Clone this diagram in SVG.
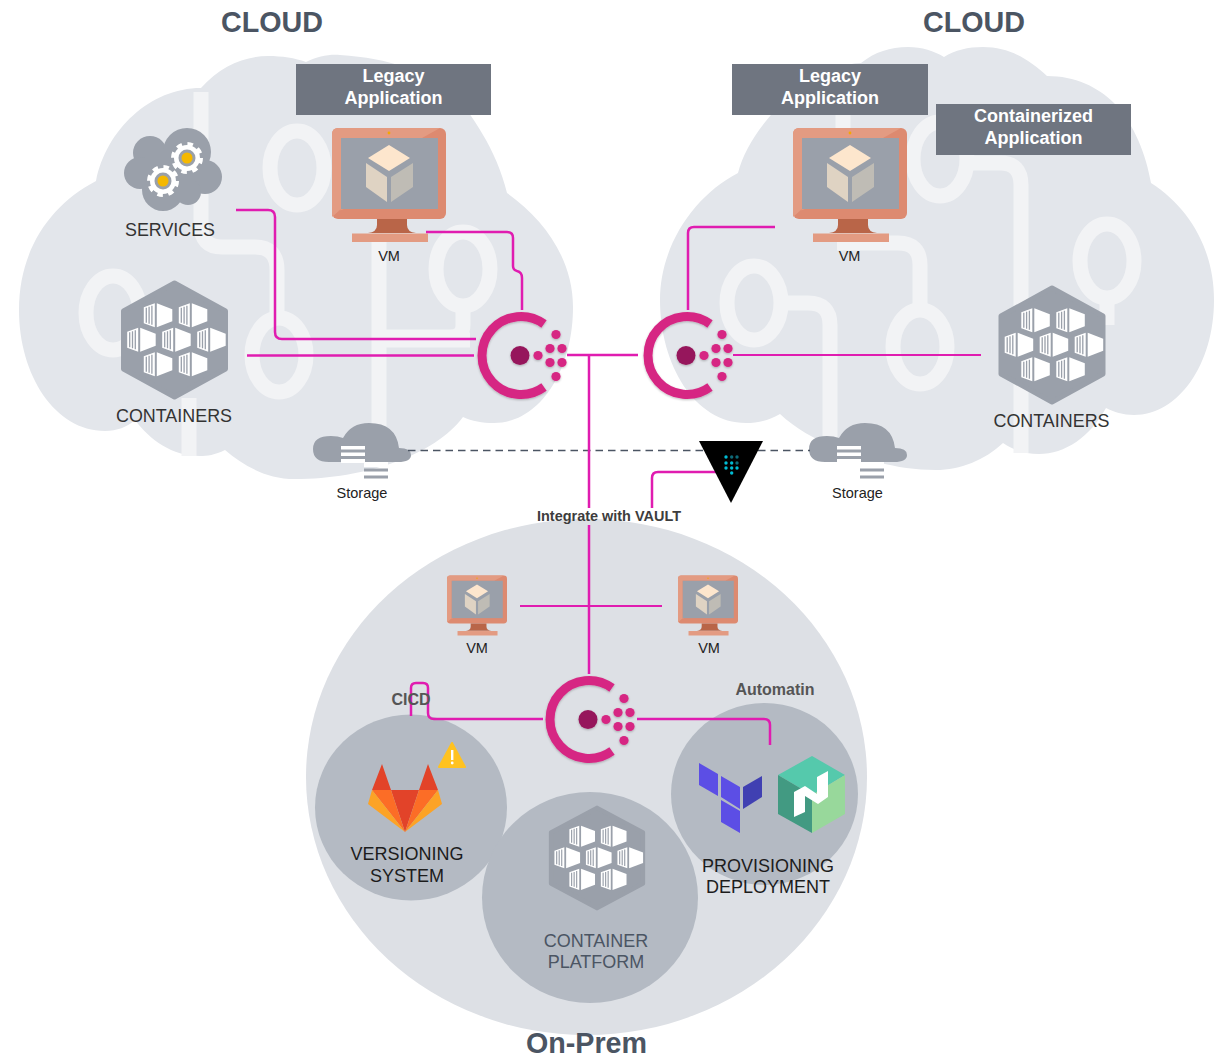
<svg xmlns="http://www.w3.org/2000/svg" xmlns:xlink="http://www.w3.org/1999/xlink" width="1217" height="1057" viewBox="0 0 1217 1057">
<style>
text{font-family:"Liberation Sans",Arial,sans-serif;text-anchor:middle}
.h{font-size:28.7px;font-weight:700;fill:#4b5563}
.lb{font-size:18px;font-weight:700;fill:#fff}
.n{font-size:18px;fill:#333}
.k{font-size:18px;fill:#1c1c1c}
.vm{font-size:14.5px;fill:#222}
.b{font-size:16px;font-weight:700;fill:#555}
.cloud{fill:#e3e6eb}
.tr{fill:none;stroke:#f2f3f5;stroke-width:15}
.lab{fill:#6f7580}
.ic{fill:#9aa0aa}
.disc{fill:#b4bac3}
.c{fill:none;stroke:#e01cb0;stroke-width:2.5;stroke-linejoin:round}
.t{fill:none;stroke:#e01cb0;stroke-width:1.8}
</style>
<defs>
<filter id="sh" x="-10%" y="-10%" width="120%" height="125%"><feDropShadow dx="0" dy="1" stdDeviation="1" flood-color="#000" flood-opacity=".25"/></filter>
<symbol id="monitor" overflow="visible" viewBox="0 0 114 114" width="114" height="114">
<rect width="114" height="91" rx="6" fill="#dd8a70"/>
<path d="M6 0H108L90 10H9V81L0 88V6Q0 0 6 0Z" fill="#e39b82"/>
<path d="M0 85L12 81H9L0 89Z" fill="#e39b82"/>
<rect x="9" y="10" width="97" height="71" fill="#9aa0aa"/>
<circle cx="57" cy="5" r="1.4" fill="#f5a800"/>
<path d="M57 17L78 30 57 43 36 30Z" fill="#fde6cd"/>
<path d="M34 35L55 49V74L34 59Z" fill="#dfd3c3"/>
<path d="M59 49L81 35V59L59 74Z" fill="#bfbcb5"/>
<path d="M45 91H75V97Q75 104 84 105H36Q45 104 45 97Z" fill="#b96548"/>
<rect x="20" y="105.500" width="76" height="8.500" fill="#e39b82"/>
</symbol>
<g id="tile">
<path d="M0 4L11 0V24L0 20Z" fill="#fff"/>
<path d="M2.500 4.500V19.500M5.300 3.500V20.500M8.100 2.500V21.500" stroke="#9aa0aa" stroke-width="1.300" fill="none"/>
<path d="M13 0L28.500 6V18L13 24Z" fill="#fff"/>
</g>
<g id="hex">
<path d="M0 -57L51 -29V29L0 57L-51 29V-29Z" fill="#9aa0aa" stroke="#9aa0aa" stroke-width="5" stroke-linejoin="round"/>
<use href="#tile" x="-30.700" y="-36.700"/><use href="#tile" x="4.300" y="-36.700"/>
<use href="#tile" x="-47.300" y="-12.300"/><use href="#tile" x="-12.300" y="-12.300"/><use href="#tile" x="22.700" y="-12.300"/>
<use href="#tile" x="-30.700" y="12.300"/><use href="#tile" x="4.300" y="12.300"/>
</g>
<g id="consul" filter="url(#sh)">
<path d="M24 -31.500A39 39 0 1 0 24 31.500" fill="none" stroke="#d62783" stroke-width="9"/>
<circle r="9.500" fill="#96185b"/>
<g fill="#d62783"><circle cx="18" r="4.600"/><circle cx="30" cy="-7" r="4.600"/><circle cx="30" cy="7" r="4.600"/><circle cx="42" cy="-7" r="4.600"/><circle cx="42" cy="7" r="4.600"/><circle cx="36" cy="-21" r="4.600"/><circle cx="36" cy="21" r="4.600"/></g>
</g>
<g id="storage">
<path d="M329 462Q313 462 313 449Q313 436 331 436Q338 436 343 438Q351 423 369 423Q396 423 399 448Q411 448 411 455Q411 462 398 462Z" fill="#9aa0aa"/>
<rect x="341" y="446" width="24" height="3.500" fill="#fff"/>
<rect x="341" y="452.500" width="24" height="3.500" fill="#fff"/>
<rect x="341" y="459" width="24" height="4" fill="#fff"/>
<rect x="364" y="462" width="24" height="5" fill="#fff"/>
<rect x="364" y="468.500" width="24" height="3" class="ic"/>
<rect x="364" y="475.500" width="24" height="3" class="ic"/>
</g>
<g id="gear">
<circle r="13" fill="#fff"/>
<circle r="14" fill="none" stroke="#fff" stroke-width="4" stroke-dasharray="5.500 5.500"/>
<circle r="8.500" fill="#9aa0aa"/>
<circle r="5.500" fill="#f5b800"/>
</g>
</defs>
<rect width="1217" height="1057" fill="#fff"/>

<g id="cloud-left">
<path class="cloud" d="M96 181C106 130 150 88 201 88C220 66 245 56 268 56C282 56 295 58 306 62C318 56 330 54 340 55C390 58 425 72 451 90C470 112 497 150 507 193C545 220 573 260 573 307C573 370 540 423 494 423C482 423 472 421 463 417C435 455 365 479 295 479C265 479 243 465 225 450C215 455 207 456 200 456C172 456 150 440 135 420C127 427 117 431 105 431C55 431 19 375 19 310C19 250 50 205 96 181Z"/>
<g class="tr">
<path d="M201 92V225Q201 247 222 247H255Q277 247 277 270V312"/>
<ellipse cx="297" cy="168" rx="27" ry="37"/>
<ellipse cx="113" cy="313" rx="27" ry="37"/>
<ellipse cx="279" cy="355" rx="27" ry="37"/>
<ellipse cx="463" cy="269" rx="27" ry="37"/>
<path d="M463 306V325Q463 337 450 337H379M379 240V430M379 340H470"/>
<path d="M189 398V456"/>
</g>
</g>

<g id="cloud-right">
<path class="cloud" d="M660 300C660 245 695 195 738 173C750 125 810 65 861 63C875 52 890 47 908 47C922 47 934 51 944 57C955 50 968 47 983 47C1010 47 1030 60 1047 76C1075 76 1098 87 1114 103C1135 125 1146 155 1151 183C1190 208 1214 250 1214 300C1214 365 1178 415 1134 415C1123 415 1114 412 1106 408C1090 437 1065 454 1039 454C1025 454 1013 450 1003 443C985 460 960 470 936 470C895 470 860 458 837 447C815 440 795 428 780 414C770 420 758 423 746 423C695 423 660 365 660 300Z"/>
<g class="tr">
<ellipse cx="754" cy="303" rx="27" ry="37"/>
<path d="M788 303H808Q830 303 830 325V447"/>
<ellipse cx="920" cy="347" rx="27" ry="37"/>
<path d="M920 310V265Q920 243 898 243H837M843 115V135"/>
<ellipse cx="940" cy="159" rx="27" ry="37"/>
<path d="M972 163H1000Q1021 163 1021 185V453"/>
<ellipse cx="1107" cy="261" rx="27" ry="37"/>
<path d="M1107 298V325"/>
</g>
</g>

<g id="onprem">
<ellipse cx="586.500" cy="777" rx="280.500" ry="258" fill="#dde0e5"/>
<ellipse id="disc-versioning" class="disc" cx="411" cy="807.500" rx="96" ry="93"/>
<ellipse id="disc-provisioning" class="disc" cx="764.500" cy="794" rx="93.500" ry="91"/>
<ellipse id="disc-platform" class="disc" cx="590" cy="897.500" rx="108" ry="105.500"/>
<text x="586.500" y="1053" class="h">On-Prem</text>
</g>

<g id="title-left"><text x="272" y="32" class="h">CLOUD</text></g>
<g id="title-right"><text x="974" y="32" class="h">CLOUD</text></g>

<g id="label-legacy-left"><rect class="lab" x="296" y="64" width="195" height="51"/><text class="lb" x="393.500" y="82">Legacy</text><text class="lb" x="393.500" y="104">Application</text></g>
<g id="label-legacy-right"><rect class="lab" x="732" y="64" width="196" height="51"/><text class="lb" x="830" y="82">Legacy</text><text class="lb" x="830" y="104">Application</text></g>
<g id="label-containerized"><rect class="lab" x="936" y="104" width="195" height="51"/><text class="lb" x="1033.500" y="122">Containerized</text><text class="lb" x="1033.500" y="144">Application</text></g>

<g id="services">
<g class="ic"><circle cx="150" cy="153" r="17"/><circle cx="187" cy="152" r="24"/><circle cx="140" cy="173" r="16"/><circle cx="205" cy="177" r="17"/><circle cx="163" cy="190" r="21"/><circle cx="188" cy="192" r="13"/><rect x="145" y="150" width="50" height="35"/></g>
<use href="#gear" x="187" y="158"/><use href="#gear" x="163" y="181"/>
<text class="n" x="170" y="235.500" textLength="90" lengthAdjust="spacingAndGlyphs">SERVICES</text>
</g>

<g id="containers-left"><use href="#hex" x="174.500" y="340"/><text class="n" x="174" y="422" textLength="116" lengthAdjust="spacingAndGlyphs">CONTAINERS</text></g>
<g id="containers-right"><use href="#hex" x="1052" y="345"/><text class="n" x="1051.500" y="427" textLength="116" lengthAdjust="spacingAndGlyphs">CONTAINERS</text></g>

<g id="vm-left"><use href="#monitor" x="332" y="128"/><text class="vm" x="389" y="261">VM</text></g>
<g id="vm-right"><use href="#monitor" x="793" y="128"/><text class="vm" x="849.500" y="261">VM</text></g>
<g id="vm-bottom-left"><use href="#monitor" x="447" y="575" width="60" height="61"/><text class="vm" x="477" y="653">VM</text></g>
<g id="vm-bottom-right"><use href="#monitor" x="678" y="575" width="60" height="61"/><text class="vm" x="709" y="653">VM</text></g>

<g id="storage-left"><use href="#storage"/><text class="vm" x="362" y="498">Storage</text></g>
<g id="storage-right"><use href="#storage" x="496"/><text class="vm" x="857.500" y="498">Storage</text></g>

<g id="gitlab">
<path d="M372 790L382 764 391 790ZM419 790L428 764 438 790ZM391 790H419L405 832Z" fill="#e24329"/>
<path d="M372 790H391L405 832ZM419 790H438L405 832Z" fill="#fc6d26"/>
<path d="M372 790L368 804 405 832ZM438 790L442 804 405 832Z" fill="#fca326"/>
<path d="M452 743L465 767H439Z" fill="#ffc220" stroke="#ffc220" stroke-width="2" stroke-linejoin="round"/>
<rect x="451" y="750" width="2.400" height="10" fill="#fff"/><circle cx="452.200" cy="763" r="1.400" fill="#fff"/>
<text class="k" x="407" y="860">VERSIONING</text><text class="k" x="407" y="882">SYSTEM</text>
</g>

<g id="platform"><use href="#hex" transform="translate(597 858) scale(.9 .88)"/><text class="n" x="596" y="947" style="fill:#4b5563">CONTAINER</text><text class="n" x="596" y="968" style="fill:#4b5563">PLATFORM</text></g>

<g id="provisioning">
<path d="M699 763L718 774V796L699 785ZM721 776L740 787V809L721 797ZM721 800L740 811V833L721 822Z" fill="#5c4ee5"/>
<path d="M743 787L762 776V797L743 809Z" fill="#4040b2"/>
<path d="M812 756L845 775 812 795 778 775Z" fill="#55c9ac"/>
<path d="M778 775L812 795V833L778 814Z" fill="#429a82"/>
<path d="M845 775L812 795V833L845 814Z" fill="#98d89b"/>
<path d="M794 792L805 786 817 794V777L828 771V797L818 804 805 796V812L794 817Z" fill="#fff"/>
<text class="k" x="768" y="872">PROVISIONING</text><text class="k" x="768" y="893">DEPLOYMENT</text>
</g>

<g id="connectors">
<path d="M408 450.500H810" fill="none" stroke="#4b5563" stroke-width="1.500" stroke-dasharray="7.500 5"/>
<path class="c" d="M236 210H268Q275 210 275 217V332Q275 339 282 339H476"/>
<path class="c" d="M247 355.500H474"/>
<path class="c" d="M426 232H507Q513 232 513 238V266Q513 270 517 271Q522 272 522 278V310"/>
<path class="c" d="M567 355H638"/>
<path class="c" d="M589 355V508M589 525V674"/>
<path class="t" d="M733 355H981"/>
<path class="c" d="M775 227H694Q688 227 688 233V310"/>
<path class="c" d="M716 472H658Q652 472 652 478V508"/>
<path class="t" d="M520 606H662"/>
<path class="c" d="M411 716V688Q411 683 416 683H423Q428 683 428 688V713Q428 719 434 719H543"/>
<path class="c" d="M637 719H764Q770 719 770 725V745"/>
</g>

<g id="consul-left"><use href="#consul" x="520" y="355.500"/></g>
<g id="consul-right"><use href="#consul" x="686" y="355.500"/></g>
<g id="consul-bottom"><use href="#consul" x="588" y="719.500"/></g>

<g id="vault">
<path d="M699 441H763L731 503Z" fill="#000"/>
<g fill="#00bcd4"><circle cx="726" cy="457" r="1.700"/><circle cx="726" cy="463" r="1.700"/><circle cx="726" cy="468" r="1.700"/><circle cx="731.700" cy="463" r="1.700"/><circle cx="731.700" cy="468" r="1.700"/><circle cx="737" cy="468" r="1.700"/><circle cx="731.700" cy="473" r="1.700"/></g>
<g fill="#0e6a78"><circle cx="731.700" cy="457" r="1.700"/><circle cx="737" cy="457" r="1.700"/><circle cx="737" cy="463" r="1.700"/></g>
</g>

<g id="edge-labels">
<text class="b" x="609" y="521" style="fill:#3d3d3d;font-size:15px" textLength="144" lengthAdjust="spacingAndGlyphs">Integrate with VAULT</text>
<text class="b" x="775" y="695">Automatin</text>
<text class="b" x="411" y="705">CICD</text>
</g>
</svg>
